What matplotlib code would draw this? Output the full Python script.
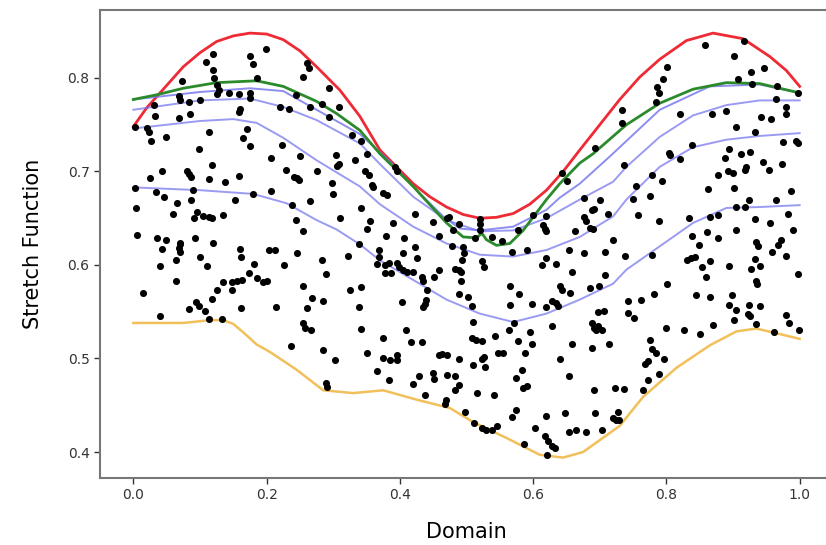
import numpy as np
import matplotlib
matplotlib.use("Agg")
import matplotlib.pyplot as plt

# curves (domain, stretch value)
red_x = [0.0, 0.020, 0.040, 0.075, 0.100, 0.125, 0.150, 0.175, 0.200, 0.225, 0.250, 0.275, 0.310,
         0.340, 0.370, 0.395, 0.420, 0.445, 0.470, 0.495, 0.520, 0.545, 0.570, 0.595, 0.620, 0.645,
         0.670, 0.700, 0.730, 0.760, 0.790, 0.830, 0.870, 0.915, 0.955, 0.980, 1.0]
red_y = [0.748, 0.768, 0.784, 0.812, 0.827, 0.839, 0.845, 0.848, 0.847, 0.841, 0.829, 0.812, 0.787,
         0.759, 0.723, 0.705, 0.687, 0.673, 0.662, 0.654, 0.650, 0.651, 0.655, 0.665, 0.680, 0.700,
         0.723, 0.750, 0.777, 0.801, 0.820, 0.840, 0.848, 0.842, 0.823, 0.808, 0.791]

green_x = [0.0, 0.035, 0.075, 0.125, 0.185, 0.225, 0.275, 0.305, 0.340, 0.370, 0.420, 0.470, 0.495,
           0.515, 0.523, 0.530, 0.545, 0.565, 0.585, 0.620, 0.640, 0.670, 0.690, 0.740, 0.790, 0.840,
           0.890, 0.940, 1.0]
green_y = [0.777, 0.782, 0.789, 0.795, 0.797, 0.791, 0.775, 0.762, 0.744, 0.719, 0.684, 0.645, 0.630,
           0.629, 0.634, 0.627, 0.621, 0.623, 0.637, 0.670, 0.687, 0.709, 0.719, 0.750, 0.773, 0.788,
           0.795, 0.794, 0.784]

blue1_x = [0.0, 0.100, 0.175, 0.225, 0.275, 0.340, 0.385, 0.425, 0.465, 0.490, 0.520, 0.570, 0.620,
           0.640, 0.670, 0.715, 0.790, 0.865, 0.940, 1.0]
blue1_y = [0.777, 0.785, 0.789, 0.786, 0.766, 0.740, 0.711, 0.680, 0.652, 0.639, 0.637, 0.641, 0.659,
           0.672, 0.687, 0.716, 0.766, 0.791, 0.793, 0.784]

blue2_x = [0.0, 0.100, 0.175, 0.225, 0.275, 0.340, 0.370, 0.420, 0.470, 0.520, 0.570, 0.620, 0.670,
           0.720, 0.740, 0.790, 0.840, 0.890, 0.940, 1.0]
blue2_y = [0.766, 0.776, 0.778, 0.769, 0.755, 0.730, 0.708, 0.673, 0.648, 0.636, 0.637, 0.650, 0.670,
           0.689, 0.705, 0.737, 0.760, 0.771, 0.776, 0.776]

blue3_x = [0.0, 0.100, 0.150, 0.185, 0.225, 0.275, 0.340, 0.370, 0.420, 0.470, 0.520, 0.570, 0.620,
           0.670, 0.720, 0.740, 0.790, 0.840, 0.890, 0.940, 1.0]
blue3_y = [0.746, 0.754, 0.756, 0.752, 0.736, 0.712, 0.684, 0.665, 0.641, 0.623, 0.611, 0.609, 0.616,
           0.630, 0.652, 0.670, 0.705, 0.726, 0.734, 0.738, 0.741]

blue4_x = [0.0, 0.100, 0.180, 0.230, 0.275, 0.305, 0.340, 0.370, 0.420, 0.470, 0.520, 0.570, 0.620,
           0.670, 0.720, 0.740, 0.790, 0.840, 0.890, 0.940, 1.0]
blue4_y = [0.683, 0.680, 0.676, 0.666, 0.648, 0.638, 0.622, 0.605, 0.584, 0.563, 0.548, 0.539, 0.548,
           0.563, 0.580, 0.595, 0.620, 0.645, 0.661, 0.662, 0.664]

orange_x = [0.0, 0.075, 0.115, 0.135, 0.150, 0.165, 0.185, 0.205, 0.245, 0.285, 0.330, 0.375, 0.425,
            0.475, 0.510, 0.560, 0.610, 0.645, 0.675, 0.730, 0.765, 0.815, 0.865, 0.905, 0.935, 0.965,
            1.0]
orange_y = [0.538, 0.538, 0.541, 0.541, 0.537, 0.528, 0.515, 0.507, 0.488, 0.466, 0.463, 0.466, 0.456,
            0.447, 0.432, 0.415, 0.397, 0.394, 0.400, 0.428, 0.459, 0.490, 0.514, 0.529, 0.532, 0.527,
            0.521]

# observed samples
dots = np.array([
    (0.120, 0.826), (0.109, 0.817), (0.120, 0.809), (0.121, 0.800), (0.175, 0.824), (0.180, 0.815),
    (0.199, 0.831), (0.186, 0.800), (0.073, 0.797), (0.126, 0.793), (0.128, 0.787), (0.125, 0.783),
    (0.143, 0.784), (0.158, 0.783), (0.175, 0.784), (0.175, 0.779), (0.069, 0.781), (0.070, 0.776),
    (0.084, 0.774), (0.100, 0.776), (0.031, 0.771), (0.160, 0.767), (0.158, 0.764), (0.033, 0.759),
    (0.068, 0.757), (0.085, 0.761), (0.003, 0.748), (0.021, 0.747), (0.023, 0.742), (0.027, 0.733),
    (0.049, 0.737), (0.113, 0.742), (0.170, 0.745), (0.165, 0.736), (0.175, 0.727), (0.099, 0.724),
    (0.206, 0.714), (0.118, 0.707), (0.043, 0.700), (0.025, 0.693), (0.081, 0.701), (0.084, 0.697),
    (0.086, 0.694), (0.114, 0.692), (0.138, 0.689), (0.158, 0.695), (0.206, 0.679), (0.003, 0.682),
    (0.034, 0.678), (0.046, 0.673), (0.090, 0.680), (0.180, 0.676), (0.066, 0.666), (0.087, 0.670),
    (0.153, 0.669), (0.004, 0.661), (0.060, 0.655), (0.095, 0.657), (0.091, 0.650), (0.105, 0.652),
    (0.113, 0.651), (0.118, 0.650), (0.135, 0.653), (0.006, 0.632), (0.036, 0.629), (0.049, 0.627),
    (0.070, 0.623), (0.069, 0.618), (0.093, 0.629), (0.119, 0.624),
    (0.043, 0.617), (0.070, 0.622), (0.070, 0.614), (0.100, 0.609), (0.040, 0.599), (0.064, 0.605),
    (0.110, 0.599), (0.160, 0.617), (0.161, 0.609), (0.203, 0.616), (0.213, 0.616), (0.181, 0.601),
    (0.173, 0.591), (0.186, 0.586), (0.195, 0.582), (0.200, 0.583), (0.064, 0.583), (0.135, 0.582),
    (0.148, 0.582), (0.155, 0.583), (0.163, 0.584), (0.148, 0.573), (0.126, 0.573), (0.015, 0.570),
    (0.118, 0.564), (0.094, 0.560), (0.099, 0.556), (0.084, 0.553), (0.108, 0.551), (0.161, 0.554),
    (0.214, 0.555), (0.040, 0.545), (0.114, 0.542), (0.133, 0.542),
    (0.260, 0.816), (0.264, 0.811), (0.255, 0.801), (0.294, 0.789), (0.244, 0.782), (0.220, 0.769),
    (0.233, 0.767), (0.265, 0.769), (0.283, 0.772), (0.308, 0.769), (0.294, 0.758), (0.328, 0.739),
    (0.341, 0.733), (0.223, 0.728), (0.250, 0.717), (0.304, 0.718), (0.351, 0.719), (0.333, 0.712),
    (0.308, 0.708), (0.305, 0.706), (0.229, 0.702), (0.275, 0.701), (0.241, 0.694), (0.246, 0.693),
    (0.249, 0.691), (0.348, 0.701), (0.353, 0.696), (0.358, 0.686), (0.360, 0.683), (0.393, 0.705),
    (0.395, 0.700), (0.298, 0.688), (0.299, 0.676), (0.375, 0.677), (0.380, 0.675), (0.265, 0.668),
    (0.238, 0.664), (0.341, 0.661), (0.423, 0.655), (0.449, 0.646), (0.470, 0.650), (0.244, 0.648),
    (0.310, 0.650), (0.355, 0.647), (0.389, 0.645), (0.351, 0.639), (0.254, 0.636), (0.406, 0.629),
    (0.379, 0.631), (0.459, 0.631), (0.339, 0.622), (0.423, 0.619),
    (0.368, 0.616), (0.368, 0.609), (0.405, 0.613), (0.425, 0.607), (0.246, 0.613), (0.283, 0.605),
    (0.322, 0.610), (0.226, 0.600), (0.289, 0.590), (0.365, 0.601), (0.378, 0.600), (0.383, 0.602),
    (0.395, 0.602), (0.399, 0.598), (0.405, 0.595), (0.410, 0.592), (0.419, 0.592), (0.378, 0.591),
    (0.386, 0.591), (0.433, 0.587), (0.434, 0.583), (0.451, 0.587), (0.459, 0.595), (0.255, 0.578),
    (0.268, 0.565), (0.285, 0.562), (0.325, 0.573), (0.341, 0.576), (0.440, 0.573), (0.439, 0.563),
    (0.438, 0.558), (0.434, 0.555), (0.403, 0.560), (0.261, 0.554), (0.338, 0.555), (0.255, 0.538),
    (0.258, 0.533), (0.266, 0.530), (0.341, 0.532), (0.409, 0.530), (0.374, 0.522), (0.416, 0.518),
    (0.433, 0.518), (0.236, 0.513), (0.285, 0.509), (0.303, 0.498), (0.350, 0.506), (0.374, 0.500),
    (0.385, 0.498), (0.395, 0.504), (0.396, 0.498), (0.459, 0.504), (0.470, 0.504), (0.366, 0.487),
    (0.383, 0.477), (0.428, 0.481), (0.450, 0.484), (0.451, 0.478), (0.470, 0.482), (0.419, 0.473),
    (0.289, 0.474), (0.291, 0.470), (0.438, 0.461), (0.468, 0.451),
    (0.693, 0.725), (0.644, 0.698), (0.651, 0.690), (0.676, 0.672), (0.700, 0.670), (0.688, 0.659),
    (0.691, 0.660), (0.676, 0.651), (0.680, 0.647), (0.686, 0.640), (0.690, 0.639), (0.713, 0.655),
    (0.720, 0.627), (0.663, 0.636), (0.620, 0.652), (0.615, 0.643), (0.618, 0.639), (0.619, 0.636),
    (0.600, 0.653), (0.577, 0.637), (0.521, 0.649), (0.521, 0.644), (0.521, 0.637), (0.473, 0.651),
    (0.488, 0.644), (0.480, 0.637), (0.513, 0.629), (0.539, 0.630), (0.553, 0.626), (0.478, 0.620),
    (0.495, 0.619),
    (0.496, 0.613), (0.568, 0.614), (0.591, 0.616), (0.654, 0.616), (0.676, 0.613), (0.708, 0.614),
    (0.620, 0.608), (0.613, 0.600), (0.635, 0.601), (0.523, 0.604), (0.526, 0.598), (0.493, 0.605),
    (0.483, 0.596), (0.488, 0.595), (0.491, 0.592), (0.491, 0.583), (0.659, 0.592), (0.708, 0.589),
    (0.565, 0.578), (0.579, 0.569), (0.641, 0.577), (0.644, 0.573), (0.655, 0.570), (0.685, 0.575),
    (0.699, 0.578), (0.489, 0.569), (0.503, 0.566), (0.508, 0.556), (0.566, 0.557), (0.599, 0.558),
    (0.620, 0.555), (0.628, 0.561), (0.634, 0.559), (0.638, 0.556), (0.698, 0.550), (0.706, 0.551),
    (0.510, 0.539), (0.571, 0.538), (0.629, 0.535), (0.688, 0.538), (0.691, 0.533), (0.698, 0.535),
    (0.704, 0.531), (0.695, 0.530), (0.564, 0.530), (0.596, 0.528), (0.543, 0.524), (0.508, 0.522),
    (0.515, 0.520), (0.523, 0.519), (0.578, 0.519), (0.598, 0.516), (0.658, 0.516), (0.688, 0.511),
    (0.714, 0.516), (0.548, 0.506), (0.555, 0.506), (0.588, 0.506), (0.463, 0.505), (0.489, 0.499),
    (0.526, 0.502), (0.523, 0.499), (0.510, 0.493), (0.528, 0.491), (0.640, 0.499), (0.583, 0.488),
    (0.483, 0.481), (0.574, 0.479), (0.654, 0.481), (0.591, 0.471), (0.585, 0.468), (0.488, 0.472),
    (0.483, 0.466), (0.516, 0.463), (0.541, 0.461), (0.691, 0.466), (0.723, 0.468), (0.469, 0.456),
    (0.498, 0.443), (0.574, 0.445), (0.569, 0.437), (0.619, 0.438), (0.648, 0.442), (0.693, 0.442),
    (0.720, 0.436), (0.725, 0.434), (0.511, 0.431), (0.524, 0.426), (0.530, 0.424), (0.538, 0.423),
    (0.546, 0.428), (0.603, 0.426), (0.654, 0.421), (0.664, 0.424), (0.679, 0.421), (0.703, 0.424),
    (0.618, 0.417), (0.623, 0.412), (0.629, 0.406), (0.633, 0.404), (0.621, 0.397), (0.586, 0.409),
    (0.858, 0.835), (0.916, 0.840), (0.901, 0.823), (0.801, 0.812), (0.927, 0.806), (0.946, 0.811),
    (0.795, 0.799), (0.908, 0.799), (0.929, 0.794), (0.966, 0.791), (0.786, 0.790), (0.789, 0.784),
    (0.785, 0.774), (0.997, 0.784), (0.965, 0.778), (0.979, 0.769), (0.980, 0.762), (0.733, 0.766),
    (0.734, 0.752), (0.820, 0.762), (0.869, 0.762), (0.890, 0.765), (0.942, 0.758), (0.957, 0.756),
    (0.904, 0.748), (0.933, 0.742), (0.975, 0.731), (0.994, 0.733), (0.997, 0.730), (0.838, 0.728),
    (0.804, 0.720), (0.806, 0.718), (0.821, 0.713), (0.894, 0.724), (0.888, 0.714), (0.912, 0.719),
    (0.925, 0.721), (0.736, 0.707), (0.778, 0.696), (0.945, 0.710), (0.954, 0.702), (0.974, 0.708),
    (0.878, 0.696), (0.892, 0.700), (0.900, 0.698), (0.918, 0.702), (0.920, 0.705), (0.793, 0.690),
    (0.754, 0.684), (0.776, 0.674), (0.750, 0.671), (0.863, 0.681), (0.901, 0.682), (0.987, 0.679),
    (0.924, 0.670), (0.964, 0.669), (0.904, 0.662), (0.918, 0.662), (0.758, 0.653), (0.789, 0.647),
    (0.834, 0.650), (0.865, 0.651), (0.878, 0.653), (0.933, 0.649), (0.982, 0.655), (0.955, 0.645),
    (0.861, 0.635), (0.839, 0.631), (0.878, 0.629), (0.904, 0.637), (0.990, 0.637), (0.849, 0.621),
    (0.935, 0.625), (0.938, 0.620), (0.972, 0.627), (0.967, 0.621),
    (0.959, 0.614), (0.738, 0.610), (0.779, 0.611), (0.980, 0.610), (0.831, 0.605), (0.837, 0.607),
    (0.843, 0.609), (0.865, 0.604), (0.854, 0.598), (0.859, 0.587), (0.894, 0.599), (0.933, 0.606),
    (0.927, 0.596), (0.941, 0.599), (0.934, 0.583), (0.936, 0.580), (0.997, 0.590), (0.801, 0.580),
    (0.781, 0.569), (0.743, 0.562), (0.762, 0.563), (0.844, 0.568), (0.865, 0.566), (0.899, 0.568),
    (0.894, 0.557), (0.905, 0.552), (0.901, 0.541), (0.924, 0.557), (0.940, 0.556), (0.923, 0.548),
    (0.926, 0.545), (0.935, 0.537), (0.979, 0.547), (0.984, 0.538), (0.999, 0.530), (0.962, 0.528),
    (0.743, 0.549), (0.751, 0.543), (0.799, 0.533), (0.826, 0.531), (0.851, 0.526), (0.870, 0.536),
    (0.775, 0.520), (0.778, 0.510), (0.784, 0.506), (0.796, 0.499), (0.773, 0.497), (0.768, 0.494),
    (0.789, 0.483), (0.773, 0.477), (0.736, 0.467), (0.765, 0.466), (0.728, 0.443), (0.729, 0.434),
])

fig = plt.figure(figsize=(8.26, 5.45), dpi=100)
ax = fig.add_axes([100 / 826, 67 / 545, 733 / 826, 468 / 545])

ax.plot(red_x, red_y, color="#ee2a35", lw=2.0, zorder=2)
ax.plot(blue1_x, blue1_y, color="#7070ee", lw=1.4, alpha=0.8, zorder=2)
ax.plot(green_x, green_y, color="#2b8a2b", lw=2.0, zorder=3)
ax.plot(blue2_x, blue2_y, color="#7070ee", lw=1.4, alpha=0.7, zorder=2)
ax.plot(blue3_x, blue3_y, color="#7070ee", lw=1.4, alpha=0.7, zorder=2)
ax.plot(blue4_x, blue4_y, color="#7070ee", lw=1.4, alpha=0.7, zorder=2)
ax.plot(orange_x, orange_y, color="#f2c05a", lw=1.8, zorder=2)

ax.scatter(dots[:, 0], dots[:, 1], s=26, color="black", zorder=4, linewidths=0)

ax.set_xlim(-0.05, 1.05)
ax.set_ylim(0.3722, 0.8727)
ax.set_xticks([0.0, 0.2, 0.4, 0.6, 0.8, 1.0])
ax.set_yticks([0.4, 0.5, 0.6, 0.7, 0.8])
ax.tick_params(labelsize=10, colors="#333333", length=4, width=1)

for s in ax.spines.values():
    s.set_color("#777777")
    s.set_linewidth(1.5)

ax.set_xlabel("Domain", fontsize=15, labelpad=14)
ax.set_ylabel("Stretch Function", fontsize=15, labelpad=18)

fig.savefig("out.png", dpi=100)
